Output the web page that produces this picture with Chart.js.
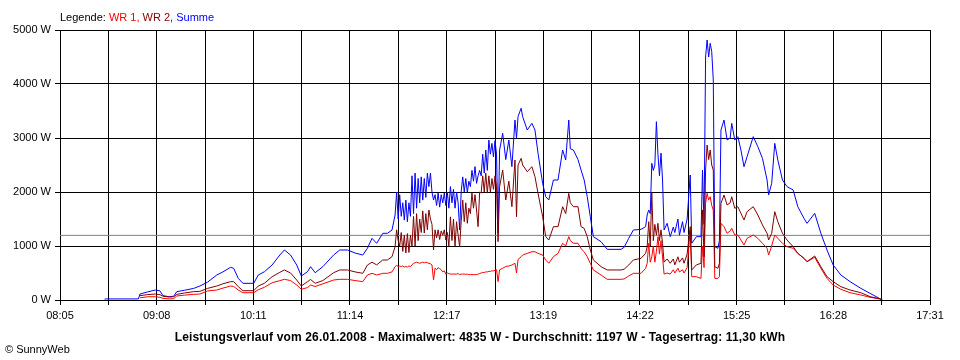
<!DOCTYPE html>
<html><head><meta charset="utf-8">
<script src="https://cdn.jsdelivr.net/npm/chart.js@4/dist/chart.umd.min.js"></script>
<style>
html,body{margin:0;padding:0;background:#fff;}
#wrap{position:relative;width:960px;height:360px;font-family:"Liberation Sans",Arial,sans-serif;font-size:11px;color:#000;}
canvas{position:absolute;left:0;top:0;}
#legende{position:absolute;left:60px;top:11px;line-height:13px;white-space:nowrap;}
#titel{position:absolute;left:0;top:331px;width:960px;text-align:center;font-weight:bold;font-size:12px;letter-spacing:0.15px;line-height:13px;white-space:nowrap;}
#copy{position:absolute;left:5px;top:343px;line-height:13px;white-space:nowrap;}
</style></head>
<body>
<div id="wrap">
<canvas id="c" width="960" height="360"></canvas>
<div id="legende">Legende: <span style="color:#ff0000">WR 1,</span> <span style="color:#800000">WR 2,</span> <span style="color:#0000ff">Summe</span></div>
<div id="titel">Leistungsverlauf vom 26.01.2008 - Maximalwert: 4835 W - Durchschnitt: 1197 W - Tagesertrag: 11,30 kWh</div>
<div id="copy">© SunnyWeb</div>
</div>
<script>
// time in minutes since midnight
const zeitMin = [
514,515,536,537,542,547,550,552,556,559,561,566,572,576,581,587,591,596,598,601,604,611,614,618,623,628,631,635,639,642,646,648,651,656,663,667,672,677,682,685,688,691,695,698,701,
703,704,705,706,707,708,709,710,711,712,713,714,715,716,717,718,719,720,721,722,723,724,725,726,727,728,729,730,731,732,733,734,735,736,737,738,739,740,741,742,743,744,745,746,747,748,749,750,751,752,753,754,755,756,757,758,759,760,761,762,763,764,765,766,767,768,769,770,771,
773,775,777,779,781,782,783,785,786,789,792,794,796,799,801,803,806,809,812,814,816,817,819,822,824,826,828,830,832,837,841,850,852,855,858,863,866,
867,868,869,870,871,872,873,874,875,876,877,878,
880,882,884,885,887,888,890,891,893,895,896,899,902,903,904,905,906,907,908,909,910,911,913,914,915,917,919,921,922,924,926,928,930,932,936,939,942,945,946,948,950,952,955,958,962,965,969,971,976,980,984,988,993,999,1006,1012,1018,1020];
// Summe (W)
const summe = [
15,20,20,110,150,185,170,80,60,70,155,180,215,259,330,463,520,605,587,400,309,309,463,524,648,833,926,833,648,444,524,617,505,617,833,926,926,870,833,957,1142,1050,1235,1235,1296,
1574,2000,1500,1950,1550,1800,1480,1850,1450,1800,1550,2300,1600,2350,1700,2250,1800,2280,1850,2250,1900,2350,2100,2350,2000,1852,1950,1750,1980,1720,1950,1800,1980,1750,2000,1700,2100,1800,2050,1700,2000,1800,1296,2000,2280,2000,2250,1990,2200,2100,2400,2200,2470,2160,2300,2400,2300,2700,2350,2778,2400,2963,2700,2900,2650,2950,2700,1235,2778,
3087,2600,2963,2469,3333,3000,3400,3550,3395,3148,3272,3148,2716,2160,1913,1852,2222,2222,2778,2593,3333,2800,2778,2600,2407,2222,1913,1543,1173,1080,938,938,975,1142,1296,1308,1358,
1574,1667,1600,2531,2400,2500,3302,2700,2300,2720,2222,1296,
1420,1173,1350,1250,1500,1200,1450,1250,1500,2315,1050,1173,1173,2407,1400,4500,4815,4500,4753,4600,4074,987,957,1100,3148,3333,2963,3000,3272,2963,3025,2778,2469,2654,3025,2839,2623,2222,1944,2160,2901,2593,2222,2099,2037,1728,1512,1420,1605,1235,926,648,463,340,216,123,31,0];
// WR 2 (W)
const wr2 = [
null,null,null,80,100,110,100,70,55,60,105,130,155,160,215,259,300,340,340,247,172,172,259,310,432,512,556,500,370,259,340,380,309,360,505,556,556,520,494,648,700,650,741,741,802,
987,1300,1100,1000,1250,900,1200,870,1230,880,1200,1000,1550,1000,1600,1100,1500,1250,1650,1240,1600,1300,1667,1500,1400,926,1300,1150,1300,1120,1280,1200,1300,1110,1250,1000,1540,1100,1500,1000,1450,1200,987,1450,1850,1450,1800,1420,1700,1600,1980,1700,1950,1667,1358,2000,1980,2300,2000,2350,1980,2300,2000,2250,2050,2300,2100,1080,2100,
2407,1852,2200,1728,2593,1543,2500,2623,2500,2376,2469,2284,1975,1543,1173,1111,1358,1358,1728,1600,1975,1800,1728,1728,1358,1327,1173,926,741,617,556,556,570,648,741,772,864,
987,1450,1000,1980,1100,1400,1200,1420,1100,1300,1050,700,
760,680,760,650,800,700,780,680,850,1358,556,650,680,1667,800,2407,2870,2600,2778,2500,2407,617,587,680,1790,1944,1759,1800,1913,1698,1728,1605,1481,1636,1728,1574,1389,1235,1111,1235,1636,1450,1235,1111,987,864,772,710,815,617,432,340,247,185,135,62,25,0];
// WR 1 (W)
const wr1 = [
null,null,null,40,60,60,50,30,20,25,75,90,105,111,167,185,220,259,250,185,135,135,190,235,320,358,383,360,278,198,230,278,250,300,370,383,383,360,340,463,494,463,494,494,520,
617,640,620,630,620,630,610,620,610,630,620,650,680,690,700,690,680,690,700,690,700,690,680,670,650,370,590,560,600,580,560,520,540,480,500,490,480,480,480,480,480,490,470,480,480,480,475,480,470,470,470,470,470,470,480,490,500,510,510,520,520,530,530,540,540,550,560,340,560,
587,620,630,648,680,500,750,802,833,864,894,894,864,833,741,680,802,864,1050,1000,1173,1100,1050,1050,950,894,802,680,556,463,383,383,390,444,494,494,587,
680,1050,700,800,1000,700,900,1170,850,1100,800,480,
500,480,560,500,590,520,560,500,600,1296,432,432,400,1000,600,1790,1975,1850,1913,1750,1667,400,400,430,1420,1358,1235,1280,1327,1204,1204,1111,1019,1142,1204,1142,1050,957,833,1000,1204,1142,1050,987,957,864,772,710,790,587,400,278,198,135,93,50,20,0];

const durchschnitt = 1197;
const zeitLabels = ['08:05','09:08','10:11','11:14','12:17','13:19','14:22','15:25','16:28','17:31'];
const leistungTicks = [0,1000,2000,3000,4000,5000];
const xStart = 485, xEnde = 1051;

const FONT = '"Liberation Sans", Arial, sans-serif';
Chart.defaults.font.family = FONT;
Chart.defaults.font.size = 11;
Chart.defaults.color = '#000';

function pts(arr){ return zeitMin.map((t,i)=>({x:t,y:arr[i]})); }
const lineBase = {borderWidth:1,pointRadius:0,tension:0,fill:false,spanGaps:false};
const nGrid = (zeitLabels.length-1)*2;
const step = (xEnde-xStart)/nGrid;

new Chart(document.getElementById('c'),{
  type:'line',
  data:{datasets:[
    Object.assign({label:'WR 2',data:pts(wr2),borderColor:'#800000'},lineBase),
    Object.assign({label:'WR 1',data:pts(wr1),borderColor:'#ff0000'},lineBase),
    Object.assign({label:'Summe',data:pts(summe),borderColor:'#0000ff'},lineBase),
    Object.assign({label:'Durchschnitt',data:[{x:xStart,y:durchschnitt},{x:xEnde,y:durchschnitt}],borderColor:'#808080'},lineBase)
  ]},
  options:{
    responsive:false,animation:false,devicePixelRatio:1,
    layout:{padding:{top:30,right:30,left:0,bottom:0}},
    plugins:{legend:{display:false},tooltip:{enabled:false}},
    scales:{
      x:{type:'linear',min:xStart,max:xEnde,
        afterBuildTicks:s=>{ s.ticks=[]; for(let k=0;k<=nGrid;k++) s.ticks.push({value:xStart+k*step}); },
        ticks:{autoSkip:false,maxRotation:0,minRotation:0,padding:4,
          callback:(v,i)=> i%2===0 ? zeitLabels[i/2] : ''},
        grid:{color:'#000',lineWidth:1,tickLength:5},
        border:{color:'#000',width:1},
        afterFit:s=>{s.height=60;}
      },
      y:{min:0,max:5000,
        afterBuildTicks:s=>{ s.ticks=leistungTicks.map(v=>({value:v})); },
        ticks:{padding:4,callback:v=>v+' W'},
        grid:{color:'#000',lineWidth:1,tickLength:5},
        border:{color:'#000',width:1},
        afterFit:s=>{s.width=60;}
      }
    }
  }
});
</script>
</body></html>
